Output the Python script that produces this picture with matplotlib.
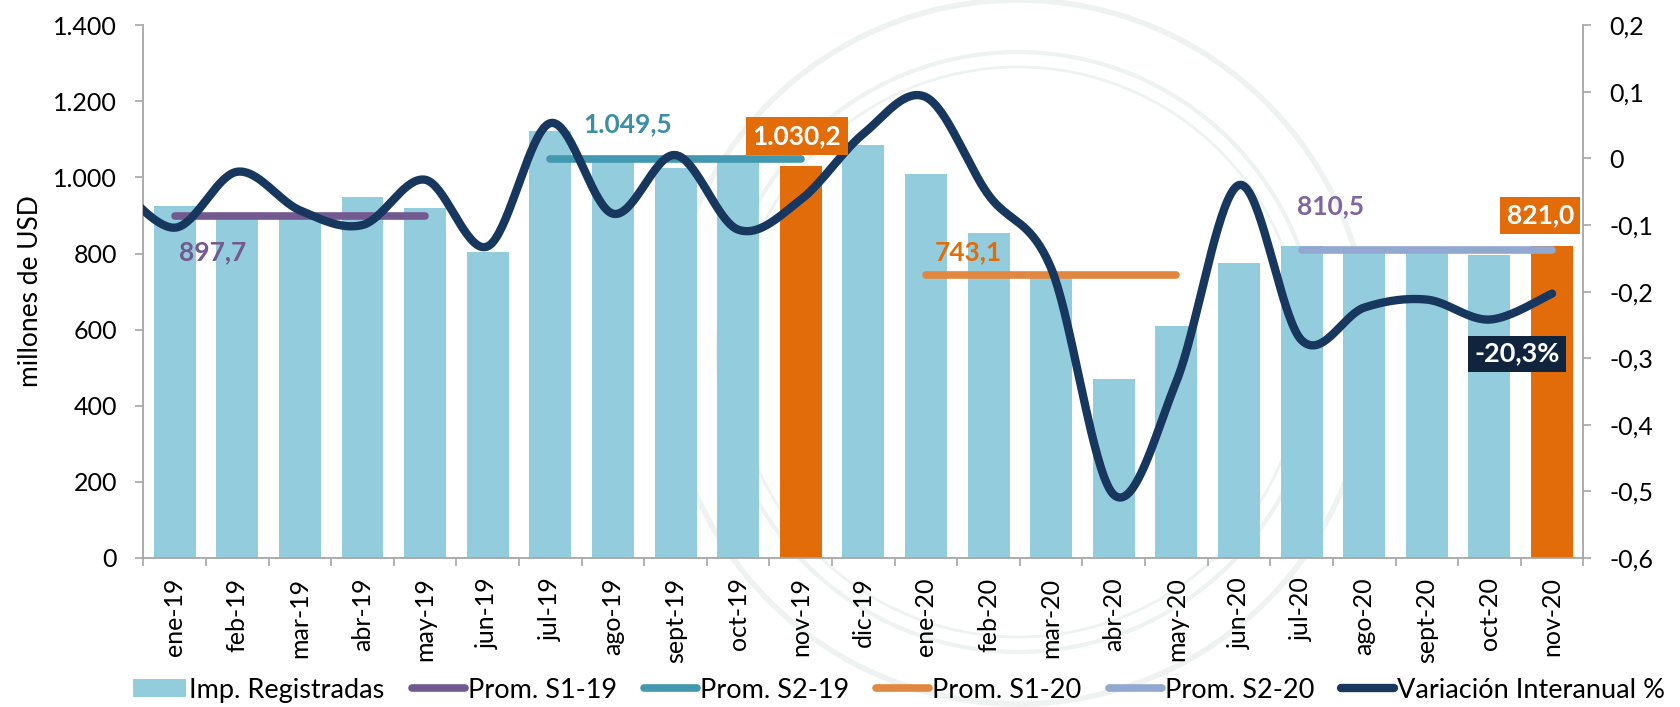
import numpy as np
import matplotlib
matplotlib.use("Agg")
import matplotlib.pyplot as plt
from matplotlib.patches import Patch, Circle
from matplotlib.lines import Line2D

plt.rcParams['font.family'] = ['Lato', 'DejaVu Sans']

# ---------------- data ----------------
meses = ['ene-19', 'feb-19', 'mar-19', 'abr-19', 'may-19', 'jun-19', 'jul-19',
         'ago-19', 'sept-19', 'oct-19', 'nov-19', 'dic-19', 'ene-20', 'feb-20',
         'mar-20', 'abr-20', 'may-20', 'jun-20', 'jul-20', 'ago-20', 'sept-20',
         'oct-20', 'nov-20']
imp_registradas = [926, 893, 893, 949, 921, 805, 1123, 1040, 1025, 1042, 1030.2,
                   1084, 1010, 853, 746, 470, 610, 774, 819, 812, 808, 795, 821.0]
variacion = [-0.104, -0.020, -0.078, -0.100, -0.032, -0.132, 0.053, -0.083, 0.005,
             -0.107, -0.062, 0.037, 0.092, -0.055, -0.165, -0.505, -0.335, -0.040,
             -0.273, -0.224, -0.212, -0.242, -0.203]
variacion_dic18 = -0.03   # preceding month, only partly visible at the left edge
resaltados = ['nov-19', 'nov-20']

prom_nombres = ['Prom. S1-19', 'Prom. S2-19', 'Prom. S1-20', 'Prom. S2-20']
prom_valores = [897.7, 1049.5, 743.1, 810.5]
prom_desde = ['ene-19', 'jul-19', 'ene-20', 'jul-20']
prom_hasta = ['may-19', 'nov-19', 'may-20', 'nov-20']
prom_etiquetas = ['897,7', '1.049,5', '743,1', '810,5']

y_left_ticks = [0, 200, 400, 600, 800, 1000, 1200, 1400]
y_left_labels = ['0', '200', '400', '600', '800', '1.000', '1.200', '1.400']
y_right_ticks = [-0.6, -0.5, -0.4, -0.3, -0.2, -0.1, 0, 0.1, 0.2]
y_right_labels = ['-0,6', '-0,5', '-0,4', '-0,3', '-0,2', '-0,1', '0', '0,1', '0,2']

# ---------------- styles ----------------
C_BAR = '#93CDDD'
C_HIGH = '#E36C0A'
C_LINE = '#17375E'
C_PROM = ['#725A91', '#4198AF', '#E2873F', '#93A8D0']
C_PROM_TXT = ['#725A91', '#3B8EA5', '#E36C0A', '#8064A2']
C_AXIS = '#A6A6A6'

fig = plt.figure(figsize=(16.81, 7.07), dpi=100)

# faint seal watermark in the background
for r, lw in ((352, 4), (300, 3), (285, 2)):
    fig.patches.append(Circle((1018, 707 - 352), r, transform=None, fill=False,
                              ec='#EEF2F1', lw=lw, zorder=0))

ax = fig.add_axes([0.0853, 0.2108, 0.8566, 0.7535])
ax2 = ax.twinx()
ax.set_zorder(2)
ax2.set_zorder(1)
ax.patch.set_visible(False)
ax2.patch.set_visible(False)

x = np.arange(len(meses))
colors = [C_HIGH if m in resaltados else C_BAR for m in meses]
ax.bar(x, imp_registradas, width=0.67, color=colors, zorder=2)

# averages
for nombre, val, d, h, c in zip(prom_nombres, prom_valores, prom_desde, prom_hasta, C_PROM):
    i0, i1 = meses.index(d), meses.index(h)
    ax.plot([i0, i1], [val, val], color=c, lw=5.5, solid_capstyle='round', zorder=3)

lab_kw = dict(fontsize=19, fontweight='bold', ha='center', va='center', zorder=6)
ax.text(0.61, 803, prom_etiquetas[0], color=C_PROM_TXT[0], **lab_kw)
ax.text(7.24, 1141, prom_etiquetas[1], color=C_PROM_TXT[1], **lab_kw)
ax.text(12.67, 803, prom_etiquetas[2], color=C_PROM_TXT[2], **lab_kw)
ax.text(18.47, 924, prom_etiquetas[3], color=C_PROM_TXT[3], **lab_kw)


# smooth line (Bezier through the points, like a spreadsheet "smoothed line")
def smooth(xs, ys, n=40):
    P = np.column_stack([np.asarray(xs, float), np.asarray(ys, float)])
    out = []
    for i in range(len(P) - 1):
        p0 = P[i - 1] if i > 0 else P[i]
        p1 = P[i]
        p2 = P[i + 1]
        p3 = P[i + 2] if i + 2 < len(P) else P[i + 1]
        c1 = p1 + (p2 - p0) / 6.0
        c2 = p2 - (p3 - p1) / 6.0
        t = np.linspace(0, 1, n)[:, None]
        seg = ((1 - t) ** 3) * p1 + 3 * ((1 - t) ** 2) * t * c1 + 3 * (1 - t) * t ** 2 * c2 + t ** 3 * p2
        out.append(seg if i == 0 else seg[1:])
    S = np.vstack(out)
    return S[:, 0], S[:, 1]


lx = np.concatenate([[-1], x])
ly = [variacion_dic18] + variacion
sx, sy = smooth(lx, ly)
ax2.set_ylim(-0.6, 0.2)
ax.set_xlim(-0.5, len(meses) - 0.5)
ax.set_ylim(0, 1400)
ax.plot(sx, sy, color=C_LINE, lw=6.0, solid_capstyle='round', zorder=4,
        transform=ax2.transData, clip_on=True)

# boxed labels
ax.text(9.94, 1109, '1.030,2', color='white', fontsize=19, fontweight='bold',
        ha='center', va='center', zorder=7,
        bbox=dict(boxstyle='square,pad=0.25', fc=C_HIGH, ec='none'))
ax.text(21.81, 901, '821,0', color='white', fontsize=19, fontweight='bold',
        ha='center', va='center', zorder=7,
        bbox=dict(boxstyle='square,pad=0.25', fc=C_HIGH, ec='none'))
ax.text(21.44, 537, '-20,3%', color='white', fontsize=19.5, fontweight='bold',
        ha='center', va='center', zorder=7,
        bbox=dict(boxstyle='square,pad=0.22', fc='#10243E', ec='none'))

# axes
ax.set_yticks(y_left_ticks)
ax.set_yticklabels(y_left_labels)
ax2.set_yticks(y_right_ticks)
ax2.set_yticklabels(y_right_labels)
ax.set_xticks(x)
ax.set_xticklabels(meses, rotation=90)
ax.set_xticks(np.arange(-0.5, len(meses), 1), minor=True)
ax.tick_params(axis='x', which='major', length=0, labelsize=18, pad=14)
ax.tick_params(axis='x', which='minor', length=6, color=C_AXIS, width=1.2)
ax.tick_params(axis='y', length=6, color=C_AXIS, width=1.2, labelsize=18, pad=13)
ax2.tick_params(axis='y', length=6, color=C_AXIS, width=1.2, labelsize=18, pad=13)

for a in (ax, ax2):
    a.spines['top'].set_visible(False)
    for s in ('left', 'right', 'bottom'):
        a.spines[s].set_color(C_AXIS)
        a.spines[s].set_linewidth(1.3)
ax.spines['right'].set_visible(False)
ax2.spines['left'].set_visible(False)
ax2.spines['bottom'].set_visible(False)

ax.set_ylabel('millones de USD', fontsize=19)
ax.yaxis.set_label_coords(-0.070, 0.5)

# legend
handles = [Patch(facecolor=C_BAR, edgecolor='none', label='Imp. Registradas')]
for nombre, c in zip(prom_nombres, C_PROM):
    handles.append(Line2D([0], [0], color=c, lw=5.5, solid_capstyle='round', label=nombre))
handles.append(Line2D([0], [0], color=C_LINE, lw=6.0, solid_capstyle='round',
                      label='Variación Interanual %'))
fig.legend(handles=handles, loc='center', bbox_to_anchor=(0.535, 0.024), ncol=6,
           frameon=False, fontsize=19.5, handlelength=1.95, handleheight=0.6,
           handletextpad=0.12, columnspacing=1.0, borderpad=0.1)

fig.savefig('out.png', dpi=100)
